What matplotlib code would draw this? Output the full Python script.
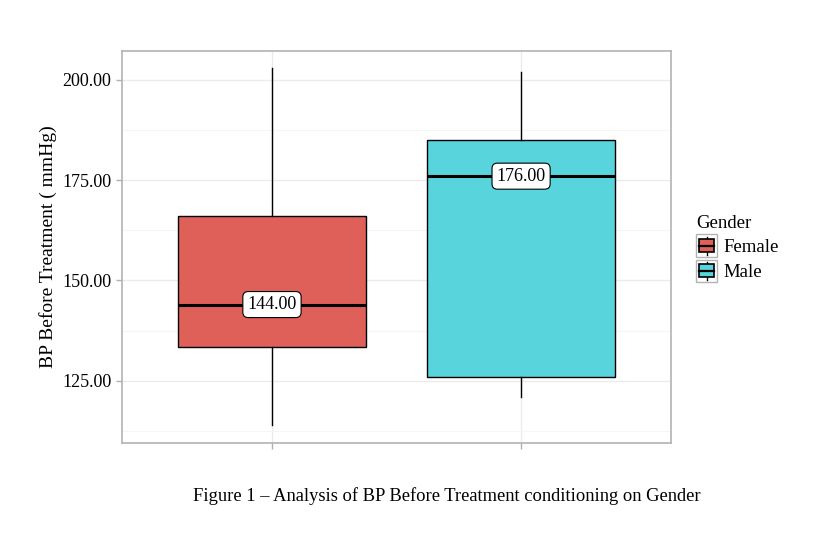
import matplotlib.pyplot as plt
from matplotlib.legend_handler import HandlerBase
from matplotlib.patches import Rectangle
from matplotlib.lines import Line2D

plt.rcParams['font.family'] = ['Liberation Serif', 'DejaVu Serif']

# box statistics
genders = ['Female', 'Male']
whisker_low = [114, 121]
q1 = [133.5, 126]
medians = [144, 176]
q3 = [166, 185]
whisker_high = [203, 202]
colors = ['#DE6059', '#57D4DC']

stats = []
for i, g in enumerate(genders):
    stats.append({'label': g, 'whislo': whisker_low[i], 'q1': q1[i], 'med': medians[i],
                  'q3': q3[i], 'whishi': whisker_high[i], 'fliers': []})

fig = plt.figure(figsize=(8.25, 5.43), dpi=100)
ax = fig.add_axes([0.1479, 0.1842, 0.6655, 0.7219])

bp = ax.bxp(stats, positions=[1, 2], widths=0.755, patch_artist=True, showcaps=False,
            boxprops=dict(edgecolor='black', linewidth=1.0),
            whiskerprops=dict(color='black', linewidth=1.0),
            medianprops=dict(color='black', linewidth=2.2), zorder=3)
for patch, c in zip(bp['boxes'], colors):
    patch.set_facecolor(c)

# median labels
for i, m in enumerate(medians):
    ax.text(i + 1, m, f'{m:.2f}', ha='center', va='center', fontsize=13, zorder=5,
            bbox=dict(boxstyle='round,pad=0.25,rounding_size=0.3', fc='white', ec='black', lw=0.8))

ax.set_xlim(0.398, 2.602)
ax.set_ylim(109.5, 207.2)
ax.set_yticks([125, 150, 175, 200])
ax.set_yticklabels([f'{v:.2f}' for v in [125, 150, 175, 200]], fontsize=13)
ax.set_yticks([112.5, 137.5, 162.5, 187.5], minor=True)
ax.set_xticks([1, 2])
ax.set_xticklabels(['', ''])
ax.tick_params(axis='both', which='major', color='#B0B0B0', length=4, width=1)
ax.tick_params(axis='y', which='minor', length=0)
ax.grid(True, which='major', color='#EBEBEB', linewidth=1.0, zorder=0)
ax.grid(True, which='minor', axis='y', color='#F5F5F5', linewidth=0.8, zorder=0)
ax.set_axisbelow(True)
for s in ax.spines.values():
    s.set_color('#B3B3B3')
    s.set_linewidth(1.2)

ax.set_ylabel('BP Before Treatment ( mmHg)', fontsize=14, labelpad=4)


class BoxKey(HandlerBase):
    def create_artists(self, legend, orig_handle, xdescent, ydescent, width, height, fontsize, trans):
        c = orig_handle.get_facecolor()
        x0, y0 = -xdescent, -ydescent
        frame = Rectangle((x0, y0), width, height, fc='white', ec='#B3B3B3', lw=1,
                          transform=trans)
        line = Line2D([x0 + width / 2] * 2, [y0 + 1.5, y0 + height - 1.5],
                      color='black', lw=1, transform=trans)
        box = Rectangle((x0 + 2.5, y0 + height * 0.22), width - 5, height * 0.56,
                        fc=c, ec='black', lw=1.2, transform=trans)
        mid = Line2D([x0 + 2.5, x0 + width - 2.5], [y0 + height / 2] * 2,
                     color='black', lw=1.6, transform=trans)
        return [frame, line, box, mid]


handles = [Rectangle((0, 0), 1, 1, fc=c) for c in colors]
leg = fig.legend(handles, genders, title='Gender', loc='upper left', bbox_to_anchor=(0.832, 0.622),
                 frameon=False, fontsize=13.5, title_fontsize=13.5, handler_map={Rectangle: BoxKey()},
                 handlelength=1.15, handleheight=1.45, handletextpad=0.3, labelspacing=0.15,
                 borderpad=0, alignment='left')

fig.text(0.541, 0.087, 'Figure 1 \u2013 Analysis of BP Before Treatment conditioning on Gender',
         ha='center', va='center', fontsize=13.3)

fig.savefig('out.png', dpi=100)
